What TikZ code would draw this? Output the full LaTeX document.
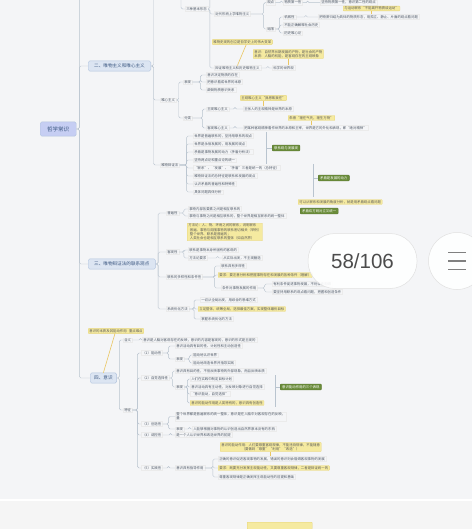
\documentclass[tikz,border=0pt]{standalone}
\usepackage{fontspec}
\setmainfont{Noto Sans CJK SC}
\newfontfamily\numfont{Liberation Sans}
\definecolor{bg}{HTML}{F4F5F7}
\definecolor{ln}{HTML}{B9C4CF}
\definecolor{bl}{HTML}{DCE5F2}
\definecolor{blb}{HTML}{B3C5DF}
\definecolor{blt}{HTML}{3A5680}
\definecolor{yl}{HTML}{F5EAA0}
\definecolor{ylb}{HTML}{E6D373}
\definecolor{gr}{HTML}{6A8C3A}
\definecolor{tx}{HTML}{4B5563}
\tikzset{
 base/.style={anchor=west, inner xsep=1.2, inner ysep=0.8, text=tx, font=\fontsize{3.4}{4.2}\selectfont},
 item/.style={base, draw=black!8, line width=0.25},
 note/.style={base, fill=yl, draw=ylb, line width=0.3, rounded corners=0.6, text=black!65, align=left},
 gbox/.style={base, fill=gr, draw=gr!80!black, line width=0.3, rounded corners=0.8, text=white, inner xsep=2, inner ysep=1.4},
 mainb/.style={anchor=west, fill=bl, draw=blb, line width=0.4, rounded corners=1.5, text=blt, font=\fontsize{4.6}{5.4}\selectfont, inner xsep=6, inner ysep=3},
 conn/.style={draw=ln, line width=0.45, rounded corners=1.5},
 yconn/.style={draw=ylb!85!orange, line width=0.6},
}
\newcommand\cnl[3][2.5]{\foreach \cc in {#3}{\draw[conn] (#2.east) -- ++(#1,0) |- (\cc.west);}}
\begin{document}
\begin{tikzpicture}[x=1pt,y=-1pt]
\useasboundingbox (0,0) rectangle (472,529);
\clip (0,0) rectangle (472,529);
\fill[bg] (0,0) rectangle (472,529);
\fill[black!4] (0,501) rectangle (472,529);
\draw[white, line width=1.5] (0,500) -- (472,500);

% root and main branches
\node[mainb, font=\fontsize{5.5}{6}\selectfont, inner xsep=7, inner ysep=4.5, fill=bl!90!blue] (root) at (40,129) {哲学常识};
\coordinate (B0) at (88,-40);
\node[mainb] (B1) at (88,66) {二、唯物主义和唯心主义};
\node[mainb] (B2) at (88,264) {三、唯物辩证法的联系观点};
\node[mainb, inner xsep=4] (B3) at (90,378) {四、意识};
\draw[conn] (root.east) -- ++(3,0) |- (B0);
\cnl[3]{root}{B1,B2,B3}

% ===== branch 1 =====
\coordinate (W1) at (160,-22);
\coordinate (W1e) at (181,-22);
\node[item] (X1) at (160,100) {唯心主义};
\node[item] (X2) at (160,165) {唯物辩证法};
\draw[conn] (B1.east) -- ++(2.5,0) |- (W1);
\cnl{B1}{X1,X2}

\node[item] (W1a) at (185,9) {三种基本形态};
\draw[conn] (W1e) |- (W1a.west);
\coordinate (W1a0) at (214,-10);
\node[item] (W1a1) at (214,14) {近代形而上学唯物主义};
\node[item] (W1a2) at (214,68) {辩证唯物主义和历史唯物主义};
\draw[conn] (W1a.east) -- ++(1.8,0) |- (W1a0);
\cnl[1.8]{W1a}{W1a1,W1a2}
\node[item] (W1a2c) at (272,68) {科学的世界观};
\cnl[7]{W1a2}{W1a2c}

\node[item] (W1a1a) at (266,2.6) {观点};
\node[item] (W1a1b) at (266,29) {局限};
\cnl[13]{W1a1}{W1a1a,W1a1b}
\node[item] (W1a1a1) at (283,2.6) {物质第一性};
\cnl[6]{W1a1a}{W1a1a1}
\node[item] (W1a1a2) at (320,2.6) {坚持物质第一性，意识第二性的观点};
\cnl[5]{W1a1a1}{W1a1a2}
\node[item] (L1) at (283,17) {机械性};
\node[item] (L2) at (283,25) {不能正确解释社会历史};
\node[item] (L3) at (283,33) {历史唯心论};
\cnl[4]{W1a1b}{L1,L2,L3}
\node[item] (L1a) at (318,17) {把物质归结为具体的物质形态，用孤立、静止、片面的观点看问题};
\cnl[10]{L1}{L1a}
\node[note] (YN0) at (343,8.5) {与运动联系“不能离开物质谈运动”};
\draw[yconn] (YN0.south) -- (YN0.south |- L1a.north);
\node[note] (YN1) at (212,42) {唯物史观的创立是哲学史上的伟大变革};
\draw[yconn] ([xshift=4]YN1.south) -- (W1a2.north);
\node[note] (YN2) at (253,54) {意识：自然界长期发展的产物，是社会的产物\\本质：人脑的机能，是客观存在的主观映象};
\draw[yconn] (YN2.south) -- (YN2.south |- W1a2c.north);

\node[item] (X1a) at (183,82) {表现};
\node[item] (X1b) at (183,118) {分类};
\cnl{X1}{X1a,X1b}
\node[item] (X1a1) at (206,75) {意识决定物质的存在};
\node[item] (X1a2) at (206,82) {把意识看成世界的本原};
\node[item] (X1a3) at (206,90) {颠倒物质意识关系};
\cnl[8]{X1a}{X1a1,X1a2,X1a3}
\node[item] (X1b1) at (206,109) {主观唯心主义};
\node[item] (X1b2) at (206,128) {客观唯心主义};
\cnl[10]{X1b}{X1b1,X1b2}
\node[item] (X1b1c) at (243,109) {主张人的主观精神是世界的本原};
\cnl[6]{X1b1}{X1b1c}
\node[item] (X1b2c) at (243,128) {把某种客观精神看作世界的本原和主宰，世界是它的外化和表现，即“绝对精神”};
\cnl[6]{X1b2}{X1b2c}
\node[note] (YN3) at (240,98) {主观唯心主义“我思故我在”};
\draw[yconn] (YN3.south) -- (YN3.south |- X1b1c.north);
\node[note] (YN4) at (288,118) {朱熹“理在气先，理生万物”};
\draw[yconn] (YN4.south) -- (YN4.south |- X1b2c.north);

\node[item] (R1) at (193,136) {世界是普遍联系的，坚持用联系的观点};
\node[item] (R2) at (193,144) {世界是永恒发展的，用发展的观点};
\node[item] (R3) at (193,152) {矛盾是事物发展的动力（矛盾分析法）};
\node[item] (R4) at (193,160) {坚持两点论和重点论的统一};
\node[item] (R5) at (193,168) {“联系”、“发展”、“矛盾”三者是统一的（总特征）};
\node[item] (R6) at (193,176) {唯物辩证法的总特征是联系和发展的观点};
\node[item] (R7) at (193,184) {认识矛盾的普遍性和特殊性};
\node[item] (R8) at (193,192) {具体问题具体分析};
\cnl[7]{X2}{R1,R2,R3,R4,R5,R6,R7,R8}
\node[gbox] (G1) at (272,148) {联系观与发展观};
\coordinate (s1t) at (266,132);
\coordinate (s1b) at (266,164);
\draw[conn] (s1t) -- (s1b);
\draw[conn] (s1t |- G1.west) -- (G1.west);
\node[gbox] (G2) at (318,178) {矛盾是发展的动力};
\coordinate (s2t) at (313,164);
\coordinate (s2b) at (313,197);
\draw[conn] (s2t) -- (s2b);
\draw[conn] (s2t |- G2.west) -- (G2.west);
\node[note] (YN5) at (298,202) {可以从联系和发展的角度分析，就是用矛盾观点看问题};
\node[gbox] (G3) at (300,211) {矛盾双方既对立又统一};

% ===== branch 2 =====
\node[item] (C1) at (166,213) {普遍性};
\node[item] (C2) at (166,252) {客观性};
\node[item] (C3) at (166,277) {联系的多样性和条件性};
\node[item] (C4) at (166,309) {系统优化方法};
\cnl{B2}{C1,C2,C3,C4}
\node[item] (C1a) at (188,209) {事物内部各要素之间是相互联系的};
\node[item] (C1b) at (188,216) {事物与事物之间是相互联系的，整个世界是相互联系的统一整体};
\cnl[5]{C1}{C1a,C1b}
\node[note] (YN6) at (187,232) {方法论：人、物、环境之间的联系，说明联系\\\ \ 普遍、事物与周围事物的联系密切相关（举例）\\\ \ 整个世界、联系是普遍的；\\\ \ 人类社会也是相互联系的整体（如自然界）};
\node[item] (C2a) at (188,250) {联系是事物本身所固有的客观的};
\node[item] (C2b) at (188,258) {方法论要求};
\cnl[5]{C2}{C2a,C2b}
\node[item] (C2b1) at (222,258) {从实际出发，不主观臆造};
\cnl[10]{C2b}{C2b1}
\node[item] (C3a) at (220,266) {联系具有多样性};
\node[note] (YN7) at (218,275) {要求：要注意分析和把握事物存在和发展的各种条件（理解）};
\node[item] (C3c) at (221,288) {条件对事物发展的作用};
\cnl[12]{C3}{C3a,YN7,C3c}
\node[item] (C3c1) at (272,284) {有利条件促进事物发展，不利条件阻碍};
\node[item] (C3c2) at (272,292) {要坚持用联系的观点看问题，把握和创造条件};
\cnl[7]{C3c}{C3c1,C3c2}
\node[item] (C4a) at (200,300) {一切从全局出发，用综合的思维方式};
\node[note] (YN8) at (198,309) {立足整体，统筹全局，选择最佳方案，实现整体最优目标};
\node[item] (C4c) at (200,319) {掌握系统优化的方法};
\cnl[5]{C4}{C4a,YN8,C4c}

% ===== branch 3 =====
\node[note] (YNt) at (88,331) {意识的本质及其能动作用\ \ \ 重点难点};
\draw[yconn] ([xshift=-1]YNt.south) -- (B3.north);
\node[item] (D1) at (123,340) {含义};
\node[item] (D2) at (123,410) {特征};
\cnl{B3}{D1,D2}
\node[item] (D1a) at (142,340) {意识是人脑对客观存在的反映，意识的内容是客观的，意识的形式是主观的};
\cnl[8]{D1}{D1a}
\node[item] (E1) at (141,353) {（1）能动性};
\node[item] (E2) at (141,378) {（2）自觉选择性};
\node[item] (E3) at (141,424) {（3）创造性};
\node[item] (E4) at (141,435) {（4）调控性};
\node[item] (E5) at (141,468) {（5）实践性};
\cnl[5]{D2}{E1,E2,E3,E4,E5}
\node[item] (E1a) at (175,346) {意识活动具有目的性、计划性和主动创造性};
\node[item] (E1b) at (175,359) {表现};
\cnl[6]{E1}{E1a,E1b}
\node[item] (E1b1) at (192,355) {能动地认识世界};
\node[item] (E1b2) at (192,363) {能动地改造世界并指导实践};
\cnl[5]{E1b}{E1b1,E1b2}
\node[item] (E2a) at (175,371) {意识具有目的性，不但反映事物的外部现象，而且反映本质};
\node[item] (E2b) at (175,387) {表现};
\cnl[3]{E2}{E2a,E2b}
\node[item] (E2b1) at (190,379) {人们在实践中制定目标计划};
\node[item] (E2b2) at (190,387) {意识活动具有主动性，对反映对象进行自觉选择};
\node[item] (E2b3) at (190,394) {“意识能动，自觉选择”};
\node[note] (YN9) at (190,403) {意识的能动作用是人类特有的，意识具有创造性};
\cnl[3]{E2b}{E2b1,E2b2,E2b3,YN9}
\node[gbox] (G4) at (280,387) {意识能动作用的三个表现};
\coordinate (s3t) at (275,375);
\coordinate (s3b) at (275,407);
\draw[conn] (s3t) -- (s3b);
\draw[conn] (s3t |- G4.west) -- (G4.west);
\node[item, align=left] (E3a) at (175,416.5) {整个世界都是普遍联系的统一整体，意识是在人脑中对客观存在的反映，\\量};
\node[item] (E3b) at (175,429) {表现};
\cnl[6]{E3}{E3a,E3b}
\node[item] (E3b1) at (192,429) {人能够根据对事物的认识创造出自然界原本没有的东西};
\cnl[5]{E3b}{E3b1}
\node[item] (E4a) at (175,435) {是一个人认识世界和改造世界的前提};
\cnl[8]{E4}{E4a}
\node[item] (E5a) at (175,468) {意识具有指导作用};
\cnl[6]{E5}{E5a}
\node[item] (E5a1) at (218,459) {正确的意识促进客观事物的发展，错误的意识则会阻碍客观事物的发展};
\node[note] (YN10) at (218,468) {要求：既要充分发挥主观能动性，又要尊重客观规律，二者是辩证统一的};
\node[item] (E5a2) at (218,477) {尊重客观规律是正确发挥主观能动性的前提和基础};
\cnl[8]{E5a}{E5a1,YN10,E5a2}
\node[note, align=center] (YN11) at (220,447) {意识的能动作用：人们要尊重客观规律，不能违背规律，不能随意\\（要做到“尊重”“利用”“改造”）};
\draw[yconn] (YN11.south) -- (YN11.south |- E5a1.north);

% next page fragment
\node[note, anchor=north west, minimum width=65, minimum height=7] (pb) at (247,522) {};

% overlay page indicator
\node[draw=black!12, line width=0.5, fill=white, fill opacity=0.9, text opacity=1, rounded corners=27, minimum width=109, minimum height=55, text=black!70, font=\numfont\fontsize{20.5}{21}\selectfont] (pg) at (362.5,261) {58/106};
\node[circle, draw=black!12, line width=0.5, fill=white, fill opacity=0.9, minimum size=57] (menu) at (457,261) {};
\foreach \dy in {-8.5,0,8.5}{\draw[black!50, line width=1.6] (menu.center) ++(-9,\dy) -- ++(18,0);}
\end{tikzpicture}
\end{document}
